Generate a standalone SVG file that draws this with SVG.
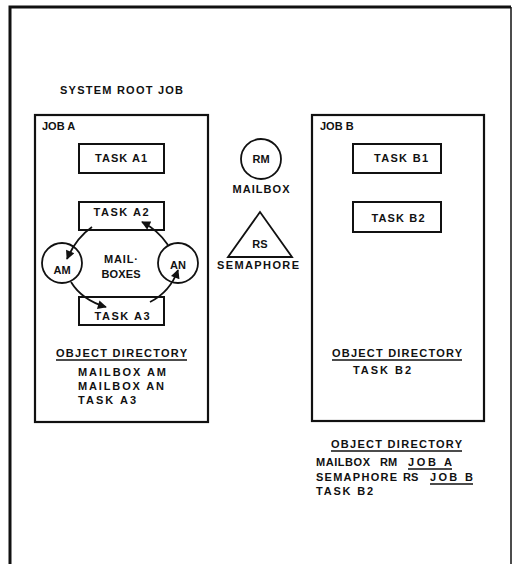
<svg xmlns="http://www.w3.org/2000/svg" width="513" height="564" viewBox="0 0 513 564">
<style>
.t{font-family:"Liberation Sans",Arial,Helvetica,sans-serif;font-weight:bold;font-size:11px;fill:#111}
.m{text-anchor:middle}
.box{fill:#fff;stroke:#111;stroke-width:2}
.job{fill:none;stroke:#111;stroke-width:2.2}
.ul{stroke:#111;stroke-width:1.3}
.arr{fill:none;stroke:#111;stroke-width:1.8;marker-end:url(#ah)}
</style>
<defs>
<marker id="ah" viewBox="0 0 10 10" refX="9" refY="5" markerWidth="12" markerHeight="9" markerUnits="userSpaceOnUse" orient="auto">
<path d="M0,0 L10,5 L0,10 z" fill="#111"/>
</marker>
</defs>
<rect width="513" height="564" fill="#fff"/>
<g id="root">
<path d="M10,564 V7 H511" fill="none" stroke="#111" stroke-width="3"/>
<line x1="511" y1="7" x2="511" y2="564" stroke="#111" stroke-width="1.5"/>
<text class="t" x="60" y="94" textLength="123" lengthAdjust="spacing">SYSTEM ROOT JOB</text>
</g>
<g id="jobA">
<rect class="job" x="35" y="115" width="173" height="307"/>
<text class="t" x="42" y="130">JOB A</text>
</g>
<g id="jobB">
<rect class="job" x="312" y="115" width="172" height="306"/>
<text class="t" x="320" y="130">JOB B</text>
</g>
<g id="taskA1">
<rect class="box" x="79" y="144" width="85" height="29"/>
<text class="t m" x="121" y="162" textLength="52" lengthAdjust="spacing">TASK A1</text>
</g>
<g id="taskB1">
<rect class="box" x="353" y="144" width="88" height="29"/>
<text class="t m" x="401" y="162" textLength="54" lengthAdjust="spacing">TASK B1</text>
</g>
<g id="mailboxRM">
<circle cx="261" cy="159" r="20" fill="#fff" stroke="#111" stroke-width="1.8"/>
<text class="t m" x="261" y="163">RM</text>
<text class="t m" x="261" y="193" textLength="57" lengthAdjust="spacing">MAILBOX</text>
</g>
<g id="semaphoreRS">
<polygon points="260,212 228,257 292,257" fill="#fff" stroke="#111" stroke-width="1.8"/>
<text class="t m" x="260" y="248">RS</text>
<text class="t m" x="258" y="269" textLength="82" lengthAdjust="spacing">SEMAPHORE</text>
</g>
<g id="taskA2">
<rect class="box" x="79" y="202" width="85" height="28"/>
<text class="t m" x="121" y="216" textLength="55" lengthAdjust="spacing">TASK A2</text>
</g>
<g id="taskB2">
<rect class="box" x="353" y="202" width="88" height="30"/>
<text class="t m" x="398" y="222" textLength="53" lengthAdjust="spacing">TASK B2</text>
</g>
<g id="mailboxAM">
<circle cx="62" cy="263" r="20" fill="#fff" stroke="#111" stroke-width="1.8"/>
<text class="t m" x="62" y="274">AM</text>
</g>
<g id="mailboxAN">
<circle cx="178" cy="263" r="20" fill="#fff" stroke="#111" stroke-width="1.8"/>
<text class="t m" x="178" y="269">AN</text>
</g>
<g id="mailboxesLabel">
<text class="t m" x="121" y="263" textLength="34" lengthAdjust="spacing">MAIL·</text>
<text class="t m" x="121" y="278" textLength="39" lengthAdjust="spacing">BOXES</text>
</g>
<g id="taskA3">
<rect class="box" x="79" y="297" width="85" height="28"/>
<text class="t m" x="122" y="320" textLength="55" lengthAdjust="spacing">TASK A3</text>
</g>
<g id="connectors">
<path class="arr" d="M92,227 Q76,238 67,259"/>
<path class="arr" d="M71,282 Q82,300 106,307"/>
<path class="arr" d="M150,302 Q170,292 178,270"/>
<path class="arr" d="M168,245 Q158,230 142,222"/>
</g>
<g id="dirA">
<text class="t" x="56" y="357" textLength="131" lengthAdjust="spacing">OBJECT DIRECTORY</text>
<line class="ul" x1="56" y1="360" x2="187" y2="360"/>
<text class="t" x="78" y="376" textLength="88" lengthAdjust="spacing">MAILBOX  AM</text>
<text class="t" x="78" y="390" textLength="86" lengthAdjust="spacing">MAILBOX  AN</text>
<text class="t" x="78" y="404" textLength="58" lengthAdjust="spacing">TASK  A3</text>
</g>
<g id="dirB">
<text class="t" x="332" y="357" textLength="130" lengthAdjust="spacing">OBJECT DIRECTORY</text>
<line class="ul" x1="332" y1="360" x2="462" y2="360"/>
<text class="t" x="353" y="374" textLength="58" lengthAdjust="spacing">TASK  B2</text>
</g>
<g id="dirRoot">
<text class="t" x="331" y="448" textLength="131" lengthAdjust="spacing">OBJECT DIRECTORY</text>
<line class="ul" x1="331" y1="451" x2="462" y2="451"/>
<text class="t" x="316" y="466" textLength="54" lengthAdjust="spacing">MAILBOX</text>
<text class="t" x="380" y="466">RM</text>
<text class="t" x="408" y="466" textLength="44" lengthAdjust="spacing">JOB A</text>
<line class="ul" x1="408" y1="469" x2="452" y2="469"/>
<text class="t" x="316" y="481" textLength="81" lengthAdjust="spacing">SEMAPHORE</text>
<text class="t" x="403" y="481">RS</text>
<text class="t" x="430" y="481" textLength="43" lengthAdjust="spacing">JOB B</text>
<line class="ul" x1="430" y1="484" x2="473" y2="484"/>
<text class="t" x="316" y="495" textLength="57" lengthAdjust="spacing">TASK  B2</text>
</g>
</svg>
